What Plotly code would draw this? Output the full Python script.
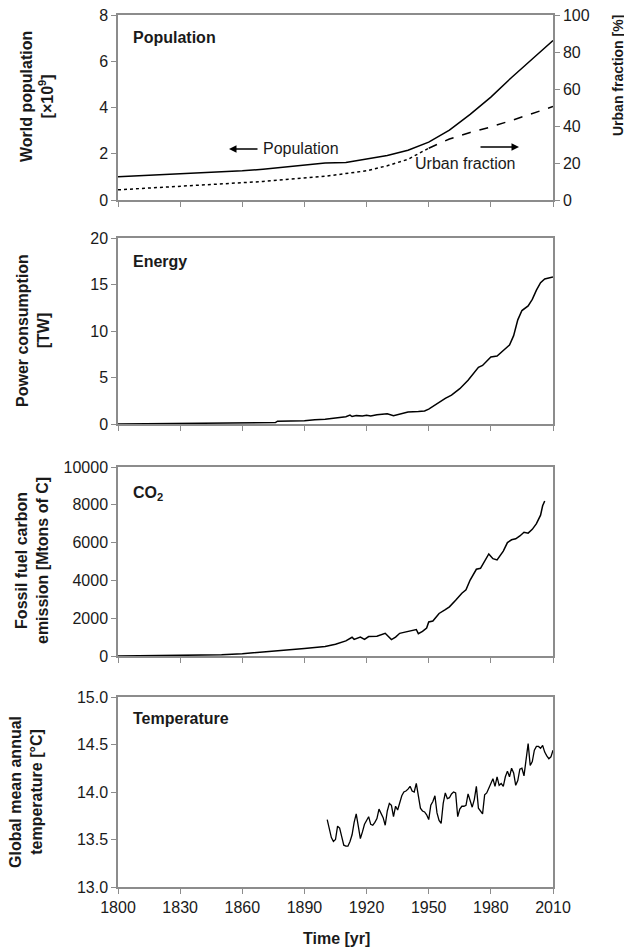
import plotly.graph_objects as go

# ---------------- data ----------------
pop_years = [1800, 1820, 1840, 1850, 1860, 1870, 1880, 1890, 1900, 1910, 1920, 1930, 1940, 1950,
             1960, 1970, 1980, 1990, 2000, 2010]
pop_values = [1.0, 1.08, 1.15, 1.2, 1.26, 1.33, 1.42, 1.5, 1.6, 1.62, 1.78, 1.92, 2.15, 2.5,
              3.02, 3.7, 4.45, 5.3, 6.1, 6.9]

urban_years_early = [1800, 1820, 1850, 1870, 1900, 1920, 1930, 1940, 1950]
urban_early = [5.5, 6.8, 8.6, 10.0, 12.8, 15.8, 18.5, 22.0, 28.0]
urban_years_late = [1950, 1960, 1970, 1980, 1990, 2000, 2010]
urban_late = [28.0, 33.0, 36.5, 39.5, 43.0, 46.8, 50.5]

energy_years = [1800, 1820, 1840, 1860, 1876, 1877, 1890, 1895, 1900, 1905, 1910, 1912, 1913, 1915,
                1918, 1920, 1922, 1925, 1930, 1933, 1936, 1940, 1945, 1948, 1950, 1953, 1955, 1958,
                1961, 1965, 1969, 1972, 1974, 1976, 1978, 1980, 1983, 1986, 1989, 1991, 1993, 1995,
                1998, 2000, 2002, 2004, 2006, 2010]
energy_values = [0.0, 0.02, 0.08, 0.12, 0.15, 0.3, 0.35, 0.45, 0.5, 0.65, 0.78, 0.95, 0.8, 0.9,
                 0.85, 0.95, 0.85, 1.0, 1.1, 0.9, 1.1, 1.3, 1.35, 1.4, 1.6, 2.05, 2.3, 2.75,
                 3.1, 3.8, 4.7, 5.5, 6.1, 6.3, 6.7, 7.2, 7.3, 7.9, 8.5, 9.5, 11.2, 12.2,
                 12.7, 13.4, 14.4, 15.2, 15.6, 15.8]

co2_years = [1800, 1820, 1840, 1850, 1860, 1870, 1880, 1890, 1900, 1905, 1910, 1913, 1914, 1917,
             1919, 1921, 1925, 1929, 1932, 1934, 1936, 1938, 1942, 1944, 1945, 1947, 1949, 1950,
             1952, 1955, 1958, 1960, 1963, 1966, 1968, 1970, 1973, 1975, 1979, 1981, 1983, 1986,
             1988, 1990, 1992, 1994, 1996, 1998, 2000, 2002, 2004, 2005, 2006]
co2_values = [0, 10, 40, 60, 120, 200, 300, 400, 500, 620, 800, 990, 880, 1000,
              880, 1030, 1050, 1200, 870, 1000, 1200, 1250, 1350, 1400, 1180, 1300, 1480, 1800,
              1850, 2250, 2450, 2600, 2950, 3320, 3500, 4020, 4590, 4640, 5400, 5150, 5080, 5550,
              6000, 6150, 6200, 6350, 6550, 6500, 6700, 7000, 7450, 7950, 8200]

temp_years = list(range(1901, 2011))
temp_values = [13.71, 13.60, 13.52, 13.48, 13.50, 13.64, 13.62, 13.53, 13.44, 13.43,
               13.43, 13.48, 13.55, 13.68, 13.77, 13.64, 13.51, 13.58, 13.66, 13.70,
               13.74, 13.66, 13.65, 13.68, 13.72, 13.82, 13.78, 13.73, 13.65, 13.80,
               13.88, 13.86, 13.74, 13.85, 13.81, 13.88, 13.96, 14.00, 14.01, 14.03,
               14.06, 14.01, 14.00, 14.09, 13.95, 13.83, 13.80, 13.79, 13.76, 13.71,
               13.86, 13.90, 13.96, 13.78, 13.70, 13.67, 13.88, 13.99, 13.93, 13.94,
               13.98, 14.00, 13.99, 13.74, 13.82, 13.85, 13.85, 13.86, 13.98, 13.90,
               13.84, 13.92, 14.06, 13.83, 13.80, 13.77, 13.97, 13.99, 14.04, 14.10,
               14.14, 14.06, 14.16, 14.07, 14.09, 14.06, 14.16, 14.22, 14.16, 14.25,
               14.20, 14.07, 14.12, 14.24, 14.25, 14.17, 14.35, 14.51, 14.28, 14.32,
               14.44, 14.48, 14.48, 14.46, 14.49, 14.42, 14.38, 14.35, 14.37, 14.44]

x_ticks = [1800, 1830, 1860, 1890, 1920, 1950, 1980, 2010]

# ---------------- layout helpers ----------------
OFF = 8  # default page body margin around the figure
W, H = 632 - OFF, 950 - OFF
FONT = "Liberation Sans, Arial, sans-serif"
AXC = "#8c8c8c"
TXT = "#1a1a1a"


def px_x(p):
    return (p - OFF) / W


def px_y(p):
    return 1 - (p - OFF) / H


panels = [(15, 200), (238, 424), (467, 656), (697, 887)]
doms = [[px_y(b), px_y(t)] for t, b in panels]
xdom = [px_x(118), px_x(553)]

fig = go.Figure()
line = dict(color="black", width=1.5)
fig.add_trace(go.Scatter(x=pop_years, y=pop_values, mode="lines", line=line, xaxis="x", yaxis="y"))
fig.add_trace(go.Scatter(x=urban_years_early, y=urban_early, mode="lines",
                         line=dict(color="black", width=1.5, dash="dot"), xaxis="x", yaxis="y2"))
fig.add_trace(go.Scatter(x=urban_years_late, y=urban_late, mode="lines",
                         line=dict(color="black", width=1.5, dash="dash"), xaxis="x", yaxis="y2"))
fig.add_trace(go.Scatter(x=energy_years, y=energy_values, mode="lines", line=line, xaxis="x2", yaxis="y3"))
fig.add_trace(go.Scatter(x=co2_years, y=co2_values, mode="lines", line=line, xaxis="x3", yaxis="y4"))
fig.add_trace(go.Scatter(x=temp_years, y=temp_values, mode="lines",
                         line=dict(color="black", width=1.3), xaxis="x4", yaxis="y5"))

tickfont = dict(family=FONT, size=16, color=TXT)
common_x = dict(domain=xdom, range=[1800, 2010], tickvals=x_ticks, ticks="outside", ticklen=5,
                tickcolor=AXC, tickwidth=1, showline=True, linecolor=AXC, linewidth=1.5,
                mirror=True, showgrid=False, zeroline=False, tickfont=tickfont, automargin=False,
                ticklabeloverflow="allow")
common_y = dict(ticks="outside", ticklen=5, tickcolor=AXC, tickwidth=1, showline=True,
                linecolor=AXC, linewidth=1.5, mirror=True, showgrid=False, zeroline=False,
                tickfont=tickfont, automargin=False, ticklabeloverflow="allow")

fig.update_layout(
    width=W, height=H, margin=dict(l=0, r=0, t=0, b=0, autoexpand=False),
    paper_bgcolor="white", plot_bgcolor="white", showlegend=False,
    font=dict(family=FONT, size=16, color=TXT),
    xaxis=dict(common_x, anchor="y", showticklabels=False),
    xaxis2=dict(common_x, anchor="y3", showticklabels=False),
    xaxis3=dict(common_x, anchor="y4", showticklabels=False),
    xaxis4=dict(common_x, anchor="y5", showticklabels=True),
    yaxis=dict(common_y, domain=doms[0], anchor="x", range=[0, 8], dtick=2),
    yaxis2=dict(common_y, domain=doms[0], anchor="x", overlaying="y", side="right",
                range=[0, 100], dtick=20, mirror=False),
    yaxis3=dict(common_y, domain=doms[1], anchor="x2", range=[0, 20], dtick=5),
    yaxis4=dict(common_y, domain=doms[2], anchor="x3", range=[0, 10000], dtick=2000, tickformat="d"),
    yaxis5=dict(common_y, domain=doms[3], anchor="x4", range=[13, 15], dtick=0.5, tickformat=".1f"),
)

ann = []


def label(text, xp, yp, xanchor="left", angle=0, size=16):
    ann.append(dict(text=text, x=px_x(xp), y=px_y(yp), xref="paper", yref="paper",
                    xanchor=xanchor, yanchor="middle", showarrow=False, textangle=angle,
                    font=dict(family=FONT, size=size, color=TXT)))


# panel labels
label("<b>Population</b>", 131, 38)
label("<b>Energy</b>", 131, 262)
label("<b>CO<sub>2</sub></b>", 131, 493)
label("<b>Temperature</b>", 131, 718)

# axis titles
label("<b>World population<br>[×10<sup>9</sup>]</b>", 37, 97, xanchor="center", angle=-90)
label("<b>Power consumption<br>[TW]</b>", 33, 331, xanchor="center", angle=-90)
label("<b>Fossil fuel carbon<br>emission [Mtons of C]</b>", 32, 561, xanchor="center", angle=-90)
label("<b>Global mean annual<br>temperature [°C]</b>", 26, 792, xanchor="center", angle=-90)
label("<b>Urban fraction [%]</b>", 618, 76, xanchor="center", angle=-90, size=14)
label("<b>Time [yr]</b>", 336, 938, xanchor="center")

# in-plot annotations
label("Population", 261, 149)
label("Urban fraction", 466, 164, xanchor="center")
ann.append(dict(x=px_x(229), y=px_y(149), xref="paper", yref="paper", ax=30, ay=0,
                showarrow=True, arrowhead=2, arrowsize=1, arrowwidth=1.5, arrowcolor="black", text=""))
ann.append(dict(x=px_x(519), y=px_y(147), xref="paper", yref="paper", ax=-40, ay=0,
                showarrow=True, arrowhead=2, arrowsize=1, arrowwidth=1.5, arrowcolor="black", text=""))

fig.update_layout(annotations=ann)
fig.write_html("out.html")
